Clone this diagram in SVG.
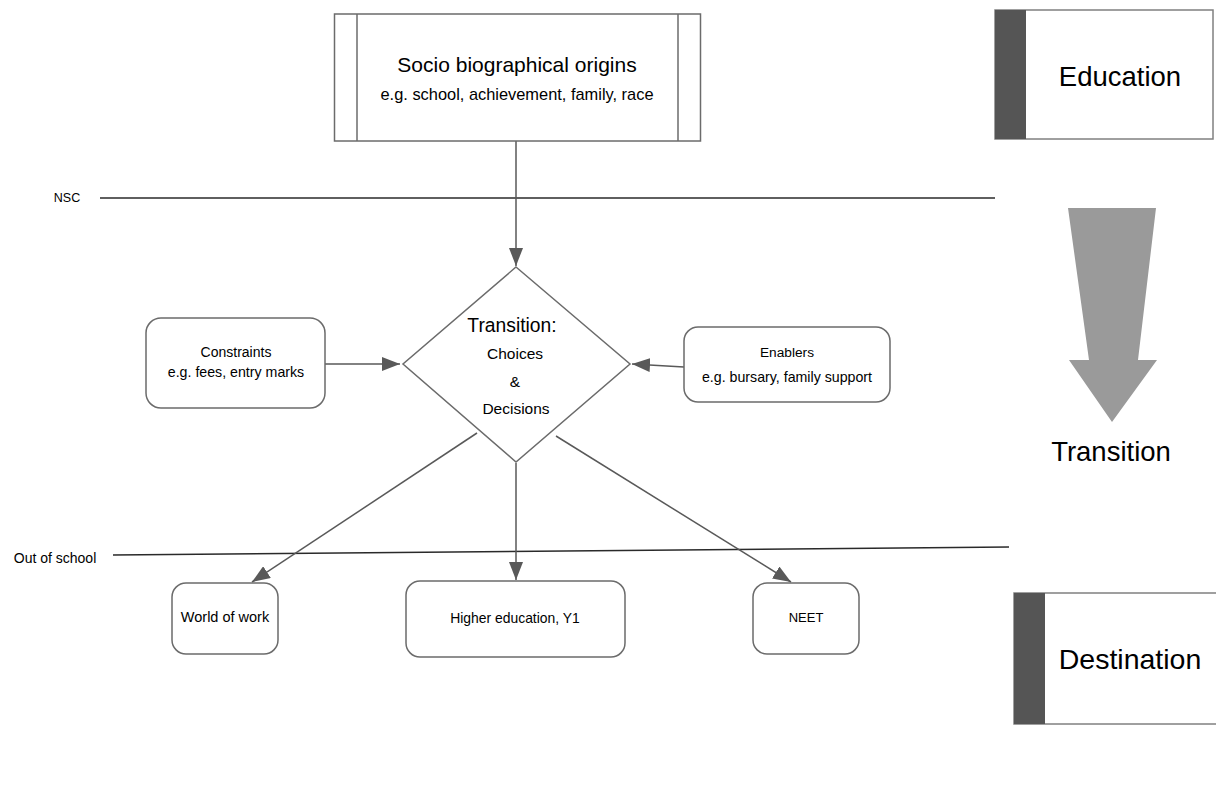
<svg xmlns="http://www.w3.org/2000/svg" width="1216" height="805" viewBox="0 0 1216 805">
<defs>
<marker id="ah" markerUnits="userSpaceOnUse" markerWidth="20" markerHeight="14" refX="18" refY="7" orient="auto">
<path d="M0,0 L18,7 L0,14 Z" fill="#595959"/>
</marker>
<style>
text{font-family:"Liberation Sans",Arial,sans-serif;fill:#000;text-anchor:middle}
.box{fill:#fff;stroke:#6b6b6b;stroke-width:1.5}
.con{stroke:#595959;stroke-width:1.5;fill:none}
.sep{stroke:#2a2a2a;stroke-width:1.5}
.bar{fill:#555}
</style>
</defs>
<rect width="1216" height="805" fill="#fff"/>

<g id="separators">
<line class="sep" x1="100" y1="198" x2="995" y2="198"/>
<line class="sep" x1="113" y1="555" x2="1009" y2="547"/>
<text x="67" y="202" font-size="12.5">NSC</text>
<text x="55" y="563" font-size="14">Out of school</text>
</g>

<g id="connectors">
<line class="con" x1="516" y1="141" x2="516" y2="266" marker-end="url(#ah)"/>
<line class="con" x1="325" y1="364" x2="400" y2="364" marker-end="url(#ah)"/>
<line class="con" x1="684" y1="367" x2="632" y2="364" marker-end="url(#ah)"/>
<line class="con" x1="477" y1="433" x2="252" y2="582" marker-end="url(#ah)"/>
<line class="con" x1="516" y1="463" x2="516" y2="580" marker-end="url(#ah)"/>
<line class="con" x1="556" y1="436" x2="791" y2="582" marker-end="url(#ah)"/>
</g>

<g id="origins">
<rect class="box" x="334.5" y="14" width="366" height="127"/>
<line class="box" x1="357" y1="14" x2="357" y2="141"/>
<line class="box" x1="678" y1="14" x2="678" y2="141"/>
<text x="517" y="72" font-size="21">Socio biographical origins</text>
<text x="517" y="100" font-size="16.4">e.g. school, achievement, family, race</text>
</g>

<g id="decision">
<polygon class="box" points="516,267 630,364 516,462 403,364"/>
<text x="512" y="332" font-size="19.3">Transition:</text>
<text x="515" y="359" font-size="15.5">Choices</text>
<text x="515" y="387" font-size="15.5">&amp;</text>
<text x="516" y="414" font-size="15.5">Decisions</text>
</g>

<g id="constraints">
<rect class="box" x="146" y="318" width="179" height="90" rx="15"/>
<text x="236" y="357" font-size="14">Constraints</text>
<text x="236" y="377" font-size="14.2">e.g. fees, entry marks</text>
</g>

<g id="enablers">
<rect class="box" x="684" y="327" width="206" height="75" rx="14"/>
<text x="787" y="357" font-size="13.7">Enablers</text>
<text x="787" y="382" font-size="14.2">e.g. bursary, family support</text>
</g>

<g id="work">
<rect class="box" x="172" y="583" width="106" height="71" rx="14"/>
<text x="225" y="622" font-size="14.5">World of work</text>
</g>

<g id="higher">
<rect class="box" x="406" y="581" width="219" height="76" rx="14"/>
<text x="515" y="623" font-size="13.9">Higher education, Y1</text>
</g>

<g id="neet">
<rect class="box" x="753" y="583" width="106" height="71" rx="14"/>
<text x="806" y="622" font-size="13">NEET</text>
</g>

<g id="education">
<rect x="995" y="10" width="218" height="129" fill="#fff" stroke="#808080" stroke-width="1.5"/>
<rect class="bar" x="995" y="10" width="31" height="129"/>
<text x="1120" y="86" font-size="27.5">Education</text>
</g>

<g id="transition-arrow">
<polygon points="1068,208 1156,208 1138,360 1157,360 1112,422 1069,360 1089,360" fill="#9a9a9a"/>
<text x="1111" y="461" font-size="27.5">Transition</text>
</g>

<g id="destination">
<rect x="1014" y="593" width="204" height="131" fill="#fff" stroke="#808080" stroke-width="1.5"/>
<rect class="bar" x="1014" y="593" width="31" height="131"/>
<text x="1130" y="669" font-size="28.5">Destination</text>
</g>
</svg>
